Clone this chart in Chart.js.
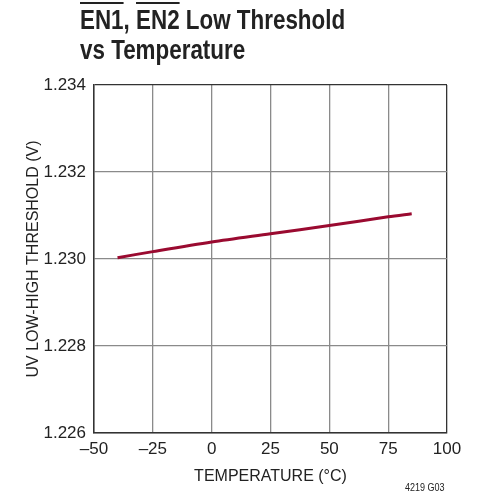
<!DOCTYPE html>
<html>
<head>
<meta charset="utf-8">
<script src="https://cdn.jsdelivr.net/npm/chart.js@4/dist/chart.umd.min.js"></script>
<style>
  html, body { margin: 0; padding: 0; background: #fff; }
  #wrap { position: relative; width: 479px; height: 504px; }
  #title {
    position: absolute; left: 80px; top: 5px;
    font-family: "Liberation Sans", Arial, sans-serif;
    font-weight: bold; font-size: 28px; line-height: 30px; color: #222;
    transform: scaleX(0.8); transform-origin: 0 0; white-space: nowrap;
  }
  #title .ov { text-decoration: overline; }
  #code {
    position: absolute; left: 405px; top: 481px;
    font-family: "Liberation Sans", Arial, sans-serif;
    font-size: 11px; color: #222;
    transform: scaleX(0.82); transform-origin: 0 0; white-space: nowrap;
  }
  canvas { position: absolute; left: 0; top: 0; }
</style>
</head>
<body>
<div id="wrap">
  <canvas id="myChart" width="479" height="504"></canvas>
  <div id="title"><span class="ov">EN1</span>, <span class="ov">EN2</span> Low Threshold<br>vs Temperature</div>
  <div id="code">4219 G03</div>
</div>
<script>
// temperature (°C) and UV low-high threshold (V)
const temps = [-40, -25, 0, 25, 50, 75, 85];
const threshold = [1.23003, 1.23017, 1.23039, 1.23058, 1.23077, 1.23097, 1.23104];
const xTicks = [-50, -25, 0, 25, 50, 75, 100];
const yTicks = [1.226, 1.228, 1.230, 1.232, 1.234];

const font = "'Liberation Sans', Arial, sans-serif";
const gridCol = '#8a8a8a';
const edgeCol = '#333';

const ctx = document.getElementById('myChart').getContext('2d');
const myChart = new Chart(ctx, {
    type: 'line',
    data: {
        datasets: [{
            data: temps.map((t, i) => ({ x: t, y: threshold[i] })),
            borderColor: '#9a0a30',
            borderWidth: 3,
            pointRadius: 0,
            tension: 0.3,
            fill: false
        }]
    },
    options: {
        responsive: false,
        animation: false,
        layout: { padding: { top: 85, right: 32, left: 20, bottom: 14 } },
        plugins: { legend: { display: false }, tooltip: { enabled: false } },
        scales: {
            x: {
                type: 'linear',
                min: -50, max: 100,
                afterBuildTicks: s => { s.ticks = xTicks.map(v => ({ value: v })); },
                afterFit: s => { s.height = 57; },
                ticks: {
                    padding: 6,
                    color: '#222',
                    font: { family: font, size: 17 },
                    callback: v => v < 0 ? '\u2013' + Math.abs(v) : String(v)
                },
                grid: {
                    drawTicks: false,
                    color: c => (c.tick && c.tick.value === 100) ? edgeCol : gridCol,
                    lineWidth: 1.3
                },
                border: { color: edgeCol, width: 1.5 },
                title: {
                    display: true, text: 'TEMPERATURE (°C)', color: '#222',
                    font: { family: font, size: 16 }, padding: { top: 2 }
                }
            },
            y: {
                min: 1.226, max: 1.234,
                afterBuildTicks: s => { s.ticks = yTicks.map(v => ({ value: v })); },
                afterFit: s => { s.width = 74; },
                ticks: {
                    padding: 8,
                    color: '#222',
                    font: { family: font, size: 17 },
                    callback: v => v.toFixed(3)
                },
                grid: {
                    drawTicks: false,
                    color: c => (c.tick && c.tick.value === 1.234) ? edgeCol : gridCol,
                    lineWidth: 1.3
                },
                border: { color: edgeCol, width: 1.5 },
                title: {
                    display: true, text: 'UV LOW-HIGH THRESHOLD (V)', color: '#222',
                    font: { family: font, size: 16 }, padding: { bottom: 0 }
                }
            }
        }
    }
});
</script>
</body>
</html>
